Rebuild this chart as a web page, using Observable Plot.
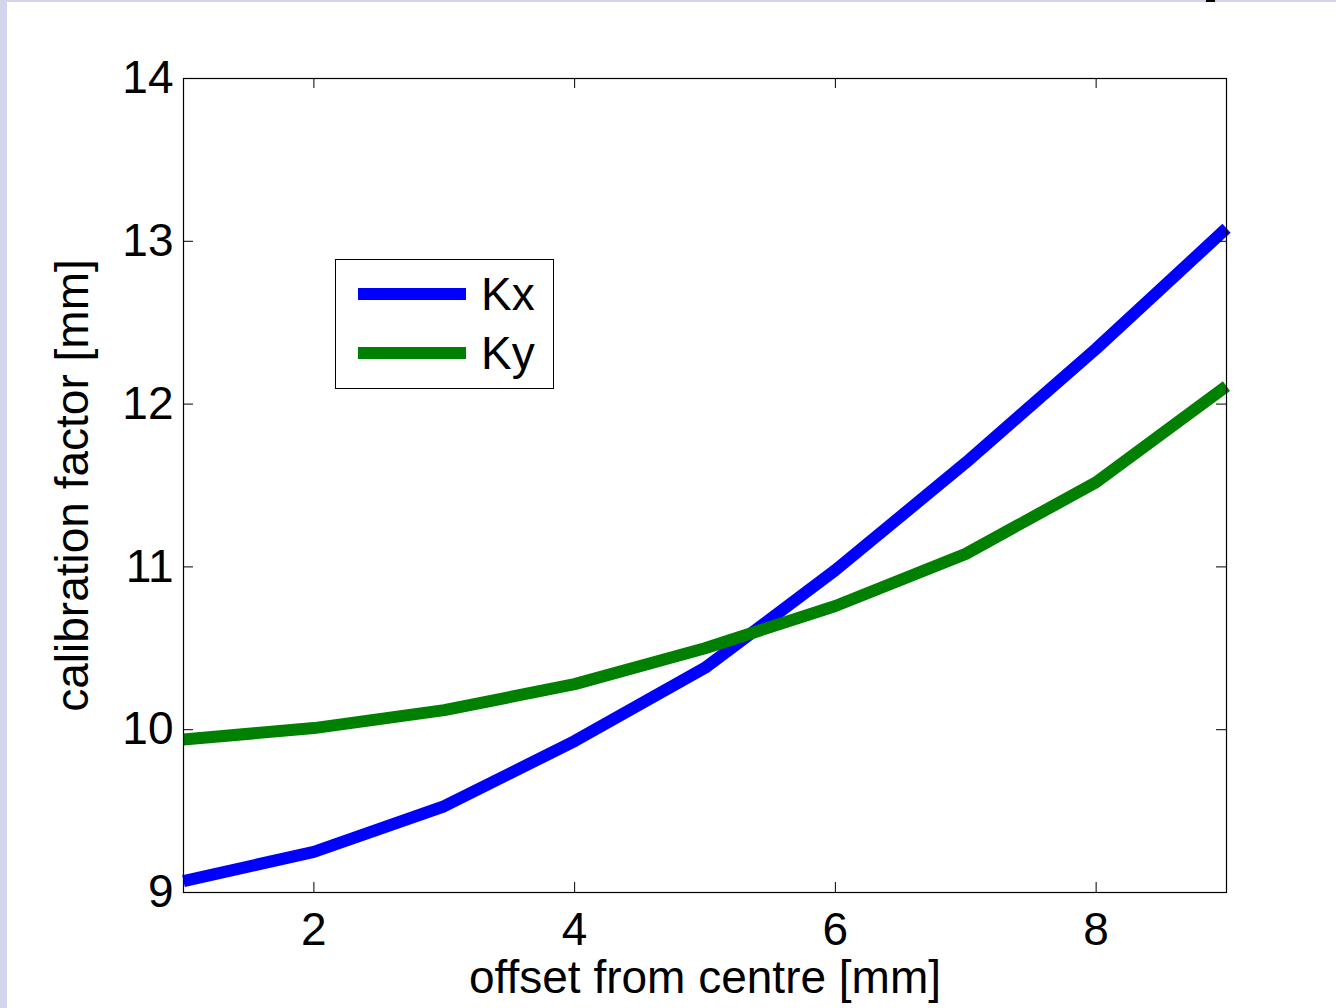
<!DOCTYPE html>
<html>
<head>
<meta charset="utf-8">
<script src="https://cdn.jsdelivr.net/npm/d3@7"></script>
<script src="https://cdn.jsdelivr.net/npm/@observablehq/plot@0.6"></script>
<style>
  html, body { margin: 0; padding: 0; background: #fff; }
  #wrap { position: relative; width: 1336px; height: 1008px; overflow: hidden; font-family: "Liberation Sans", Arial, sans-serif; }
  #stripLeft { position: absolute; left: 0; top: 0; width: 7px; height: 1008px; background: #d4d4ec; }
  #stripTop { position: absolute; left: 0; top: 0; width: 1336px; height: 2px; background: #d4d4ec; }
  #stripMark { position: absolute; left: 1206px; top: 0; width: 9px; height: 2px; background: #000; }
  #legend { position: absolute; left: 335px; top: 259px; width: 217px; height: 128px; border: 1px solid #000; background: #fff; }
  .lg-row { position: absolute; left: 0; height: 50px; }
  .lg-swatch { position: absolute; left: 22px; width: 108px; height: 12px; }
  .lg-text { position: absolute; left: 145px; font-size: 46px; line-height: 50px; white-space: nowrap; color: #000; }
</style>
</head>
<body>
<div id="wrap">
  <div id="chart"></div>
  <div id="stripLeft"></div>
  <div id="stripTop"></div>
  <div id="stripMark"></div>
  <div id="legend"></div>
</div>
<script>
// ---- data ----
const offsets = [1, 2, 3, 4, 5, 6, 7, 8, 9];
const kxValues = [9.07, 9.25, 9.53, 9.93, 10.38, 10.98, 11.64, 12.34, 13.08];
const kyValues = [9.94, 10.01, 10.12, 10.28, 10.50, 10.76, 11.08, 11.52, 12.11];
const seriesNames = ["Kx", "Ky"];
const seriesColors = ["#0000ff", "#008000"];
const xTicks = [2, 4, 6, 8];
const yTicks = [9, 10, 11, 12, 13, 14];
const xLabel = "offset from centre [mm]";
const yLabel = "calibration factor [mm]";

const rows = [];
offsets.forEach((x, i) => rows.push({x, value: kxValues[i], series: seriesNames[0]}));
offsets.forEach((x, i) => rows.push({x, value: kyValues[i], series: seriesNames[1]}));

const W = 1336, H = 1008, mL = 183, mR = 110, mT = 78, mB = 116;
const innerW = W - mL - mR, innerH = H - mT - mB, tickLen = 10;

const chart = Plot.plot({
  width: W, height: H,
  marginLeft: mL, marginRight: mR, marginTop: mT, marginBottom: mB,
  style: { fontFamily: "'Liberation Sans', Arial, sans-serif", fontSize: "46px", color: "#000", background: "transparent" },
  x: { domain: [1, 9] },
  y: { domain: [9, 14] },
  color: { domain: seriesNames, range: seriesColors },
  marks: [
    Plot.line(rows, { x: "x", y: "value", z: "series", stroke: "series", strokeWidth: 12, strokeLinejoin: "round", strokeLinecap: "butt" }),
    Plot.frame({ stroke: "#000", strokeWidth: 1.2 }),
    // inward ticks
    Plot.tickY(yTicks, { y: d => d, insetRight: innerW - tickLen, stroke: "#000" }),
    Plot.tickY(yTicks, { y: d => d, insetLeft: innerW - tickLen, stroke: "#000" }),
    Plot.tickX(xTicks, { x: d => d, insetTop: innerH - tickLen, stroke: "#000" }),
    Plot.tickX(xTicks, { x: d => d, insetBottom: innerH - tickLen, stroke: "#000" }),
    Plot.axisX(xTicks, { tickSize: 0, tickPadding: 20, tickFormat: d3.format("d"), label: xLabel, labelAnchor: "center", labelArrow: "none", labelOffset: 100 }),
    Plot.axisY(yTicks, { tickSize: 0, tickPadding: 10, tickFormat: d3.format("d"), label: yLabel, labelAnchor: "center", labelArrow: "none", labelOffset: 128 })
  ]
});
document.getElementById("chart").appendChild(chart);

// legend
const legend = document.getElementById("legend");
seriesNames.forEach((name, i) => {
  const row = document.createElement("div");
  row.className = "lg-row";
  row.style.top = (9 + i * 59) + "px";
  row.style.width = "217px";
  const sw = document.createElement("div");
  sw.className = "lg-swatch";
  sw.style.background = seriesColors[i];
  sw.style.top = "19px";
  const tx = document.createElement("div");
  tx.className = "lg-text";
  tx.textContent = name;
  tx.style.top = "0px";
  row.appendChild(sw);
  row.appendChild(tx);
  legend.appendChild(row);
});
</script>
</body>
</html>
